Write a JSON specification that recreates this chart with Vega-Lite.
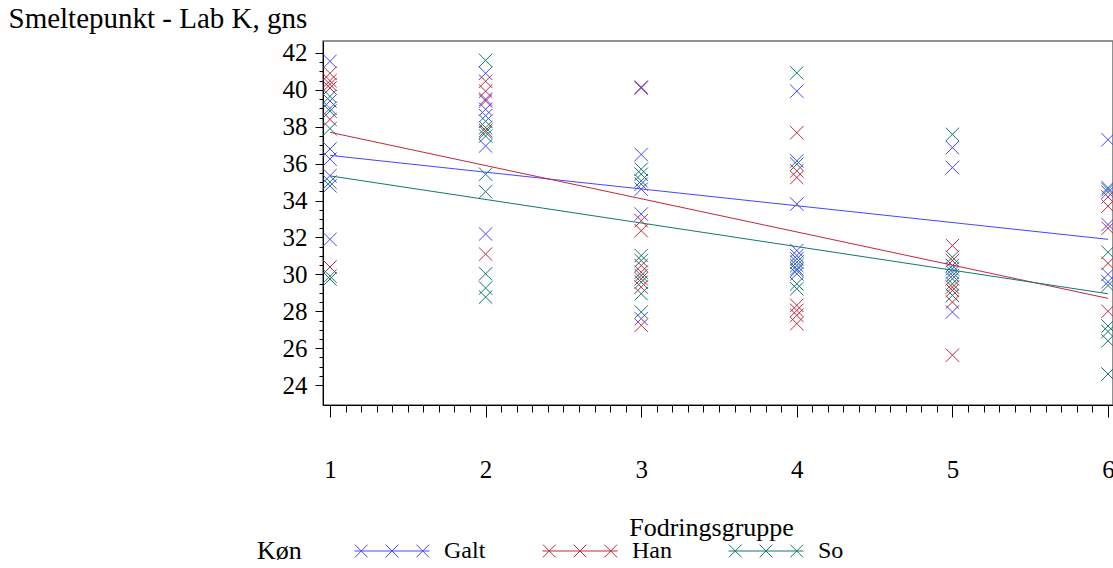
{
  "$schema": "https://vega.github.io/schema/vega-lite/v6.json",
  "autosize": "none",
  "width": 790,
  "height": 364,
  "padding": {"left": 323, "top": 41, "right": 0, "bottom": 163},
  "background": "white",
  "config": {
    "font": "Times New Roman, Liberation Serif, DejaVu Serif, serif",
    "style": {
      "guide-label": {"font": "Times New Roman, Liberation Serif, DejaVu Serif, serif"},
      "guide-title": {"font": "Times New Roman, Liberation Serif, DejaVu Serif, serif"}
    },
    "view": {"stroke": "#6e6e6e", "strokeWidth": 1.5},
    "axis": {"domainColor": "black", "tickColor": "black", "labelColor": "black", "titleColor": "black", "titleFontWeight": "normal", "grid": false, "labelFont": "Times New Roman, Liberation Serif, DejaVu Serif, serif", "titleFont": "Times New Roman, Liberation Serif, DejaVu Serif, serif"},
    "axisY": {"labelFont": "Times New Roman, Liberation Serif, DejaVu Serif, serif", "titleFont": "Times New Roman, Liberation Serif, DejaVu Serif, serif"},
    "axisLeft": {"labelFont": "Times New Roman, Liberation Serif, DejaVu Serif, serif", "titleFont": "Times New Roman, Liberation Serif, DejaVu Serif, serif"},
    "legend": {
      "orient": "none", "legendX": -66, "legendY": 472, "direction": "horizontal",
      "titleFont": "Times New Roman, Liberation Serif, DejaVu Serif, serif", "labelFont": "Times New Roman, Liberation Serif, DejaVu Serif, serif",
      "titleOrient": "left", "titleFontSize": 26, "titleFontWeight": "normal", "titleColor": "black", "titlePadding": 52, "titleBaseline": "top", "titleAnchor": "middle",
      "labelFontSize": 24, "labelColor": "black", "labelOffset": 14, "columnPadding": 54,
      "symbolType": "M-1,0L1,0M-0.99,-0.17L-0.65,0.17M-0.99,0.17L-0.65,-0.17M-0.17,-0.17L0.17,0.17M-0.17,0.17L0.17,-0.17M0.65,-0.17L0.99,0.17M0.65,0.17L0.99,-0.17",
      "symbolSize": 5625, "symbolStrokeWidth": 1, "symbolFillColor": "transparent"
    }
  },
  "datasets": {
    "pts": [
      {"grp": 1, "kon": "Galt", "smp": 41.55}, {"grp": 1, "kon": "Galt", "smp": 39.4}, {"grp": 1, "kon": "Galt", "smp": 39.0}, {"grp": 1, "kon": "Galt", "smp": 36.8}, {"grp": 1, "kon": "Galt", "smp": 36.25}, {"grp": 1, "kon": "Galt", "smp": 35.35}, {"grp": 1, "kon": "Galt", "smp": 34.8}, {"grp": 1, "kon": "Galt", "smp": 31.9},
      {"grp": 1, "kon": "Han", "smp": 40.9}, {"grp": 1, "kon": "Han", "smp": 40.5}, {"grp": 1, "kon": "Han", "smp": 40.3}, {"grp": 1, "kon": "Han", "smp": 40.1}, {"grp": 1, "kon": "Han", "smp": 38.4}, {"grp": 1, "kon": "Han", "smp": 30.4},
      {"grp": 1, "kon": "So", "smp": 39.65}, {"grp": 1, "kon": "So", "smp": 38.85}, {"grp": 1, "kon": "So", "smp": 37.9}, {"grp": 1, "kon": "So", "smp": 35.0}, {"grp": 1, "kon": "So", "smp": 29.9}, {"grp": 1, "kon": "So", "smp": 29.75},
      {"grp": 2, "kon": "So", "smp": 41.6}, {"grp": 2, "kon": "So", "smp": 38.3}, {"grp": 2, "kon": "So", "smp": 37.95}, {"grp": 2, "kon": "So", "smp": 37.7}, {"grp": 2, "kon": "So", "smp": 37.5}, {"grp": 2, "kon": "So", "smp": 35.43}, {"grp": 2, "kon": "So", "smp": 34.48}, {"grp": 2, "kon": "So", "smp": 30.03}, {"grp": 2, "kon": "So", "smp": 29.26}, {"grp": 2, "kon": "So", "smp": 28.77},
      {"grp": 2, "kon": "Galt", "smp": 40.9}, {"grp": 2, "kon": "Galt", "smp": 39.5}, {"grp": 2, "kon": "Galt", "smp": 38.95}, {"grp": 2, "kon": "Galt", "smp": 38.6}, {"grp": 2, "kon": "Galt", "smp": 36.96}, {"grp": 2, "kon": "Galt", "smp": 32.19},
      {"grp": 2, "kon": "Han", "smp": 40.47}, {"grp": 2, "kon": "Han", "smp": 39.93}, {"grp": 2, "kon": "Han", "smp": 39.4}, {"grp": 2, "kon": "Han", "smp": 37.8}, {"grp": 2, "kon": "Han", "smp": 31.1},
      {"grp": 3, "kon": "Han", "smp": 40.15}, {"grp": 3, "kon": "Han", "smp": 32.91}, {"grp": 3, "kon": "Han", "smp": 32.37}, {"grp": 3, "kon": "Han", "smp": 30.48}, {"grp": 3, "kon": "Han", "smp": 30.12}, {"grp": 3, "kon": "Han", "smp": 29.76}, {"grp": 3, "kon": "Han", "smp": 29.31}, {"grp": 3, "kon": "Han", "smp": 27.24},
      {"grp": 3, "kon": "Galt", "smp": 40.1}, {"grp": 3, "kon": "Galt", "smp": 36.5}, {"grp": 3, "kon": "Galt", "smp": 34.89}, {"grp": 3, "kon": "Galt", "smp": 34.62}, {"grp": 3, "kon": "Galt", "smp": 33.27}, {"grp": 3, "kon": "Galt", "smp": 27.6},
      {"grp": 3, "kon": "So", "smp": 35.7}, {"grp": 3, "kon": "So", "smp": 35.43}, {"grp": 3, "kon": "So", "smp": 35.07}, {"grp": 3, "kon": "So", "smp": 31.02}, {"grp": 3, "kon": "So", "smp": 30.75}, {"grp": 3, "kon": "So", "smp": 29.94}, {"grp": 3, "kon": "So", "smp": 29.58}, {"grp": 3, "kon": "So", "smp": 28.95}, {"grp": 3, "kon": "So", "smp": 27.96},
      {"grp": 4, "kon": "So", "smp": 40.92}, {"grp": 4, "kon": "So", "smp": 35.97}, {"grp": 4, "kon": "So", "smp": 30.84}, {"grp": 4, "kon": "So", "smp": 30.48}, {"grp": 4, "kon": "So", "smp": 30.21}, {"grp": 4, "kon": "So", "smp": 29.49}, {"grp": 4, "kon": "So", "smp": 29.22},
      {"grp": 4, "kon": "Galt", "smp": 39.93}, {"grp": 4, "kon": "Galt", "smp": 36.15}, {"grp": 4, "kon": "Galt", "smp": 33.81}, {"grp": 4, "kon": "Galt", "smp": 31.29}, {"grp": 4, "kon": "Galt", "smp": 31.02}, {"grp": 4, "kon": "Galt", "smp": 30.66}, {"grp": 4, "kon": "Galt", "smp": 30.3}, {"grp": 4, "kon": "Galt", "smp": 30.03},
      {"grp": 4, "kon": "Han", "smp": 37.68}, {"grp": 4, "kon": "Han", "smp": 35.61}, {"grp": 4, "kon": "Han", "smp": 35.25}, {"grp": 4, "kon": "Han", "smp": 28.32}, {"grp": 4, "kon": "Han", "smp": 28.05}, {"grp": 4, "kon": "Han", "smp": 27.78}, {"grp": 4, "kon": "Han", "smp": 27.33},
      {"grp": 5, "kon": "So", "smp": 37.59}, {"grp": 5, "kon": "So", "smp": 30.93}, {"grp": 5, "kon": "So", "smp": 30.48}, {"grp": 5, "kon": "So", "smp": 30.12}, {"grp": 5, "kon": "So", "smp": 29.76}, {"grp": 5, "kon": "So", "smp": 29.49}, {"grp": 5, "kon": "So", "smp": 28.86},
      {"grp": 5, "kon": "Galt", "smp": 36.87}, {"grp": 5, "kon": "Galt", "smp": 35.79}, {"grp": 5, "kon": "Galt", "smp": 30.3}, {"grp": 5, "kon": "Galt", "smp": 29.94}, {"grp": 5, "kon": "Galt", "smp": 27.96},
      {"grp": 5, "kon": "Han", "smp": 31.56}, {"grp": 5, "kon": "Han", "smp": 30.75}, {"grp": 5, "kon": "Han", "smp": 29.31}, {"grp": 5, "kon": "Han", "smp": 29.13}, {"grp": 5, "kon": "Han", "smp": 28.5}, {"grp": 5, "kon": "Han", "smp": 25.62},
      {"grp": 6, "kon": "Galt", "smp": 37.3}, {"grp": 6, "kon": "Galt", "smp": 34.7}, {"grp": 6, "kon": "Galt", "smp": 34.45}, {"grp": 6, "kon": "Galt", "smp": 32.7}, {"grp": 6, "kon": "Galt", "smp": 30.0}, {"grp": 6, "kon": "Galt", "smp": 29.6},
      {"grp": 6, "kon": "Han", "smp": 34.2}, {"grp": 6, "kon": "Han", "smp": 33.7}, {"grp": 6, "kon": "Han", "smp": 32.5}, {"grp": 6, "kon": "Han", "smp": 30.6}, {"grp": 6, "kon": "Han", "smp": 28.0},
      {"grp": 6, "kon": "So", "smp": 34.6}, {"grp": 6, "kon": "So", "smp": 31.2}, {"grp": 6, "kon": "So", "smp": 29.4}, {"grp": 6, "kon": "So", "smp": 27.2}, {"grp": 6, "kon": "So", "smp": 26.9}, {"grp": 6, "kon": "So", "smp": 26.4}, {"grp": 6, "kon": "So", "smp": 24.6}
    ],
    "fit": [
      {"grp": 1, "kon": "Galt", "smp": 36.45}, {"grp": 6, "kon": "Galt", "smp": 31.9},
      {"grp": 1, "kon": "Han", "smp": 37.7}, {"grp": 6, "kon": "Han", "smp": 28.7},
      {"grp": 1, "kon": "So", "smp": 35.34}, {"grp": 6, "kon": "So", "smp": 28.95}
    ]
  },
  "layer": [
    {
      "data": {"name": "pts"},
      "mark": {"type": "point", "shape": "M-1,-1L1,1M-1,1L1,-1", "filled": false, "size": 180, "strokeWidth": 1, "opacity": 1},
      "encoding": {
        "x": {"field": "grp", "type": "quantitative", "scale": {"domain": [0.955, 6.032], "nice": false, "zero": false},
          "axis": {"orient": "bottom", "values": [1, 2, 3, 4, 5, 6], "labelFontSize": 25, "tickSize": 12, "labelPadding": 40, "title": "Fodringsgruppe", "titleFontSize": 26, "titlePadding": 32, "titleX": 388}},
        "y": {"field": "smp", "type": "quantitative", "scale": {"domain": [22.92, 42.65], "nice": false, "zero": false},
          "axis": {"orient": "left", "values": [24, 26, 28, 30, 32, 34, 36, 38, 40, 42], "labelFontSize": 25, "tickSize": 8, "labelPadding": 8, "title": "Smeltepunkt - Lab K, gns", "titleFontSize": 29, "titleAngle": 0, "titleAlign": "left", "titleBaseline": "alphabetic", "titleX": -315, "titleY": -14}},
        "color": {"field": "kon", "type": "nominal", "title": "Køn", "scale": {"domain": ["Galt", "Han", "So"], "range": ["#4646ff", "#c3283c", "#10796a"]}}
      }
    },
    {
      "data": {"name": "fit"},
      "mark": {"type": "line", "strokeWidth": 1},
      "encoding": {
        "x": {"field": "grp", "type": "quantitative",
          "axis": {"orient": "bottom", "values": [1.1, 1.2, 1.3, 1.4, 1.5, 1.6, 1.7, 1.8, 1.9, 2.1, 2.2, 2.3, 2.4, 2.5, 2.6, 2.7, 2.8, 2.9, 3.1, 3.2, 3.3, 3.4, 3.5, 3.6, 3.7, 3.8, 3.9, 4.1, 4.2, 4.3, 4.4, 4.5, 4.6, 4.7, 4.8, 4.9, 5.1, 5.2, 5.3, 5.4, 5.5, 5.6, 5.7, 5.8, 5.9], "labels": false, "domain": false, "tickSize": 7, "title": null}},
        "y": {"field": "smp", "type": "quantitative",
          "axis": {"orient": "left", "values": [24.5, 25, 25.5, 26.5, 27, 27.5, 28.5, 29, 29.5, 30.5, 31, 31.5, 32.5, 33, 33.5, 34.5, 35, 35.5, 36.5, 37, 37.5, 38.5, 39, 39.5, 40.5, 41, 41.5], "labels": false, "domain": false, "tickSize": 4, "title": null}},
        "color": {"field": "kon", "type": "nominal"}
      }
    }
  ],
  "resolve": {"axis": {"x": "independent", "y": "independent"}}
}
